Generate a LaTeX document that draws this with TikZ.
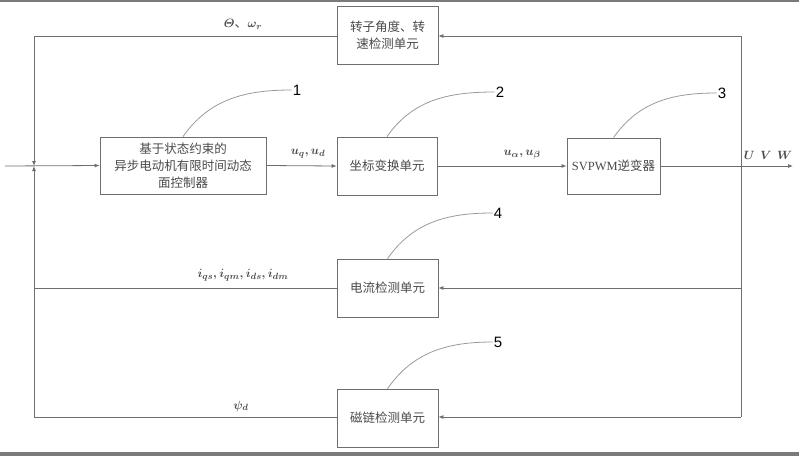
\documentclass[tikz,border=0pt]{standalone}
\usepackage{amsmath,amssymb}
\usepackage{fontspec}
\setmainfont{Liberation Serif}
\newfontfamily\cjk{Noto Sans CJK SC}
\newfontfamily\numfont{Liberation Sans}
\newfontfamily\latinfont{Liberation Serif}
\usetikzlibrary{arrows.meta,calc,positioning}
\definecolor{Frame}{HTML}{7A7A7A}
\definecolor{Wire}{HTML}{6E6E6E}
\definecolor{Lead}{HTML}{9A9A9A}
\definecolor{BoxInk}{HTML}{4A4A4A}

\begin{document}
\begin{tikzpicture}[x=1pt,y=-1pt,
    unit/.style={draw=Wire,line width=0.8pt,fill=white,align=center,inner sep=1pt,
      text=BoxInk,font=\cjk\fontsize{12.5}{17}\selectfont},
    wire/.style={Wire,line width=0.8pt},
    sig/.style={wire,-{Latex[length=5pt,width=4pt]}},
    lead/.style={Lead,line width=0.8pt},
    tag/.style={font=\numfont\fontsize{15}{15}\selectfont,inner sep=1pt},
    lab/.style={font=\fontsize{13}{13}\selectfont\boldmath,inner sep=0pt,text=BoxInk}]
    \useasboundingbox (0,0) rectangle (799,456);
    \fill[Frame] (0,0) rectangle (799,1.5);
    \fill[Frame] (0,452) rectangle (799,456);
    % blocks
    \node[unit,minimum width=101pt,minimum height=58pt] (rotor) at (387.5,35) {转子角度、转\\速检测单元};
    \node[unit,minimum width=166pt,minimum height=57pt] (ctrl) at (183,165.5) {基于状态约束的\\异步电动机有限时间动态\\面控制器};
    \node[unit,minimum width=100pt,minimum height=58pt] (trans) at (387,166) {坐标变换单元};
    \node[unit,minimum width=93pt,minimum height=56pt] (svpwm) at (613.5,166) {{\latinfont SVPWM}逆变器};
    \node[unit,minimum width=101pt,minimum height=58pt] (curdet) at (387.5,288) {电流检测单元};
    \node[unit,minimum width=101pt,minimum height=58pt] (fluxdet) at (387.5,418) {磁链检测单元};
    % wire corners
    \coordinate (in) at (5,166);
    \coordinate (out) at (793,166);
    \coordinate (jn) at (34,166);
    \coordinate (jt) at (34,36);
    \coordinate (jb) at (34,417);
    \coordinate (rt) at (741,36);
    \coordinate (rb) at (741,417);
    % forward path
    \draw[sig] (in) -- (ctrl.west);
    \draw[sig] (ctrl.east) -- (trans.west);
    \draw[sig] (trans.east) -- (svpwm.west);
    \draw[sig] (svpwm.east) -- (out);
    % measurement branches
    \draw[wire] (rt) -- (rb);
    \draw[sig] (rt) -- (rotor.east |- rt);
    \draw[sig] (rt |- curdet.east) -- (curdet.east);
    \draw[sig] (rb) -- (fluxdet.east |- rb);
    % feedback to the summing point
    \draw[sig] (rotor.west |- jt) -- (jt) -- (jn);
    \draw[wire] (curdet.west) -- (jt |- curdet.west);
    \draw[sig] (fluxdet.west |- jb) -- (jb) -- (jn);
    % signal labels
    \node[lab] (lth) at (243,24) {$\varTheta${\cjk 、}$\omega_r$};
    \node[lab] (lud) at (308,154) {$u_q,u_d$};
    \node[lab] (lab) at (522,155) {$u_\alpha,u_\beta$};
    \node[lab] (luvw) at (768,155) {$U\,\ V\,\ W$};
    \node[lab] (li) at (243,275) {$i_{qs},i_{qm},i_{ds},i_{dm}$};
    \node[lab] (lpsi) at (241,406) {$\psi_d$};
    % callout numbers
    \node[tag] (n1) at (297,90) {1};
    \node[tag] (n2) at (500,92) {2};
    \node[tag] (n3) at (722,93) {3};
    \node[tag] (n4) at (498,213) {4};
    \node[tag] (n5) at (498,342) {5};
    \foreach \b/\n in {ctrl/n1,trans/n2,svpwm/n3,curdet/n4,fluxdet/n5}{
      \draw[lead] (\b.north) to[out=55,in=180] (\n.west);
    }
  \end{tikzpicture}
\end{document}
